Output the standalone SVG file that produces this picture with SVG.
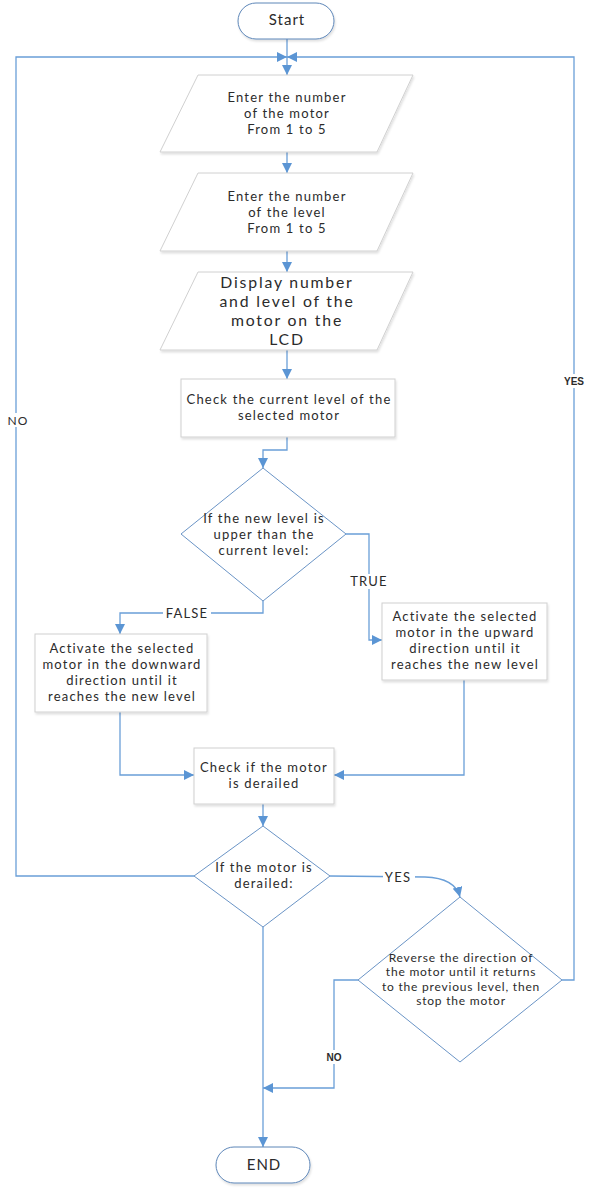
<svg xmlns="http://www.w3.org/2000/svg" width="591" height="1191" viewBox="0 0 591 1191">
<style>
.t{font-family:"Lato","Noto Sans","Liberation Sans",sans-serif;fill:#2b2b2b;text-anchor:middle}
.s13{font-size:13px;letter-spacing:1.2px}.s12{font-size:12px;letter-spacing:0.8px}.s17{font-size:15.8px;letter-spacing:1.8px}.s15{font-size:15px;letter-spacing:1px}
.box{fill:#fff;stroke:#d0d0d0;stroke-width:1;filter:url(#sh)}
.dia{fill:#fff;stroke:#6a94c6;stroke-width:1}
.term{fill:#fff;stroke:#5d86b8;stroke-width:1;filter:url(#sh)}
.c{fill:none;stroke:#6a9fd8;stroke-width:1.3}
.lbl{font-family:"Lato","Noto Sans","Liberation Sans",sans-serif;fill:#2b2b2b;font-size:13px;letter-spacing:1.2px;text-anchor:middle}
.lb{font-family:"Liberation Sans",sans-serif;font-weight:bold;fill:#2b2b2b;font-size:10px;text-anchor:middle}
</style>
<defs>
<filter id="sh" x="-10%" y="-10%" width="120%" height="130%"><feDropShadow dx="1" dy="2" stdDeviation="1.2" flood-color="#000" flood-opacity="0.12"/></filter>
<marker id="a" viewBox="0 0 10 10" refX="10" refY="5" markerWidth="10" markerHeight="10" markerUnits="userSpaceOnUse" orient="auto"><path d="M0,0 L10,5 L0,10 z" fill="#5b95d4"/></marker>
</defs>
<g id="connectors">
<path class="c" d="M287,38 V75" marker-end="url(#a)"/>
<path class="c" d="M287,152 V173" marker-end="url(#a)"/>
<path class="c" d="M287,251 V272" marker-end="url(#a)"/>
<path class="c" d="M287,350 V379" marker-end="url(#a)"/>
<path class="c" d="M287,437 V450 H263 V468" marker-end="url(#a)"/>
<path class="c" d="M346,534 H369 V640 H382" marker-end="url(#a)"/>
<path class="c" d="M263,601 V613 H120 V634" marker-end="url(#a)"/>
<path class="c" d="M120,712 V775 H194" marker-end="url(#a)"/>
<path class="c" d="M464,680 V775 H334" marker-end="url(#a)"/>
<path class="c" d="M263,804 V826" marker-end="url(#a)"/>
<path class="c" d="M194,876 H16 V57 H287" marker-end="url(#a)"/>
<path class="c" d="M330,876 L425,877 Q455,878 460,897" marker-end="url(#a)"/>
<path class="c" d="M562,980 H574 V57 H287" marker-end="url(#a)"/>
<path class="c" d="M358,980 H334 V1088 H263" marker-end="url(#a)"/>
<path class="c" d="M263,927 V1147" marker-end="url(#a)"/>
<rect x="350" y="574" width="38" height="15" fill="#fff"/>
<text class="lbl" x="369" y="586">TRUE</text>
<rect x="163" y="605" width="48" height="15" fill="#fff"/>
<text class="lbl" x="187" y="618">FALSE</text>
<rect x="383" y="869" width="32" height="15" fill="#fff"/>
<text class="lbl" x="398" y="882">YES</text>
<rect x="5" y="413" width="26" height="14" fill="#fff"/>
<text class="lbl" x="18" y="425" style="font-size:12px">NO</text>
<rect x="562" y="374" width="24" height="14" fill="#fff"/>
<text class="lb" x="574" y="385">YES</text>
<rect x="323" y="1050" width="22" height="14" fill="#fff"/>
<text class="lb" x="334" y="1061">NO</text>
</g>
<g id="start">
<rect class="term" x="238" y="3" width="96" height="36" rx="18"/>
<text class="t s15" x="287" y="25">Start</text>
</g>
<g id="input-motor">
<polygon class="box" points="198,75 413,75 377,152 160,152"/>
<text class="t s13" x="287" y="102">Enter the number</text>
<text class="t s13" x="287" y="118">of the motor</text>
<text class="t s13" x="287" y="134">From 1 to 5</text>
</g>
<g id="input-level">
<polygon class="box" points="198,173 413,173 377,251 160,251"/>
<text class="t s13" x="287" y="201">Enter the number</text>
<text class="t s13" x="287" y="217">of the level</text>
<text class="t s13" x="287" y="233">From 1 to 5</text>
</g>
<g id="display">
<polygon class="box" points="198,272 413,272 377,350 160,350"/>
<text class="t s17" x="287" y="288">Display number</text>
<text class="t s17" x="287" y="307">and level of the</text>
<text class="t s17" x="287" y="326">motor on the</text>
<text class="t s17" x="287" y="345">LCD</text>
</g>
<g id="check-level">
<rect class="box" x="181" y="379" width="214" height="58"/>
<text class="t s13" x="289" y="404">Check the current level of the</text>
<text class="t s13" x="289" y="420">selected motor</text>
</g>
<g id="decision-level">
<polygon class="dia" points="263,468 346,534 263,601 181,534"/>
<text class="t s13" x="264" y="523">If the new level is</text>
<text class="t s13" x="264" y="539">upper than the</text>
<text class="t s13" x="264" y="555">current level:</text>
</g>
<g id="activate-up">
<rect class="box" x="382" y="603" width="165" height="77"/>
<text class="t s13" x="465" y="621">Activate the selected</text>
<text class="t s13" x="465" y="637">motor in the upward</text>
<text class="t s13" x="465" y="653">direction until it</text>
<text class="t s13" x="465" y="669">reaches the new level</text>
</g>
<g id="activate-down">
<rect class="box" x="35" y="634" width="172" height="78"/>
<text class="t s13" x="122" y="653">Activate the selected</text>
<text class="t s13" x="122" y="669">motor in the downward</text>
<text class="t s13" x="122" y="685">direction until it</text>
<text class="t s13" x="122" y="701">reaches the new level</text>
</g>
<g id="check-derailed">
<rect class="box" x="194" y="748" width="140" height="56"/>
<text class="t s13" x="264" y="772">Check if the motor</text>
<text class="t s13" x="264" y="788">is derailed</text>
</g>
<g id="decision-derailed">
<polygon class="dia" points="263,826 330,876 263,927 194,876"/>
<text class="t s13" x="264" y="872">If the motor is</text>
<text class="t s13" x="264" y="888">derailed:</text>
</g>
<g id="reverse">
<polygon class="dia" points="460,897 562,980 460,1062 358,980"/>
<text class="t s12" x="461" y="962">Reverse the direction of</text>
<text class="t s12" x="461" y="976">the motor until it returns</text>
<text class="t s12" x="461" y="991">to the previous level, then</text>
<text class="t s12" x="461" y="1005">stop the motor</text>
</g>
<g id="end">
<rect class="term" x="216" y="1147" width="94" height="36" rx="18"/>
<text class="t s15" x="264" y="1170">END</text>
</g>
</svg>
